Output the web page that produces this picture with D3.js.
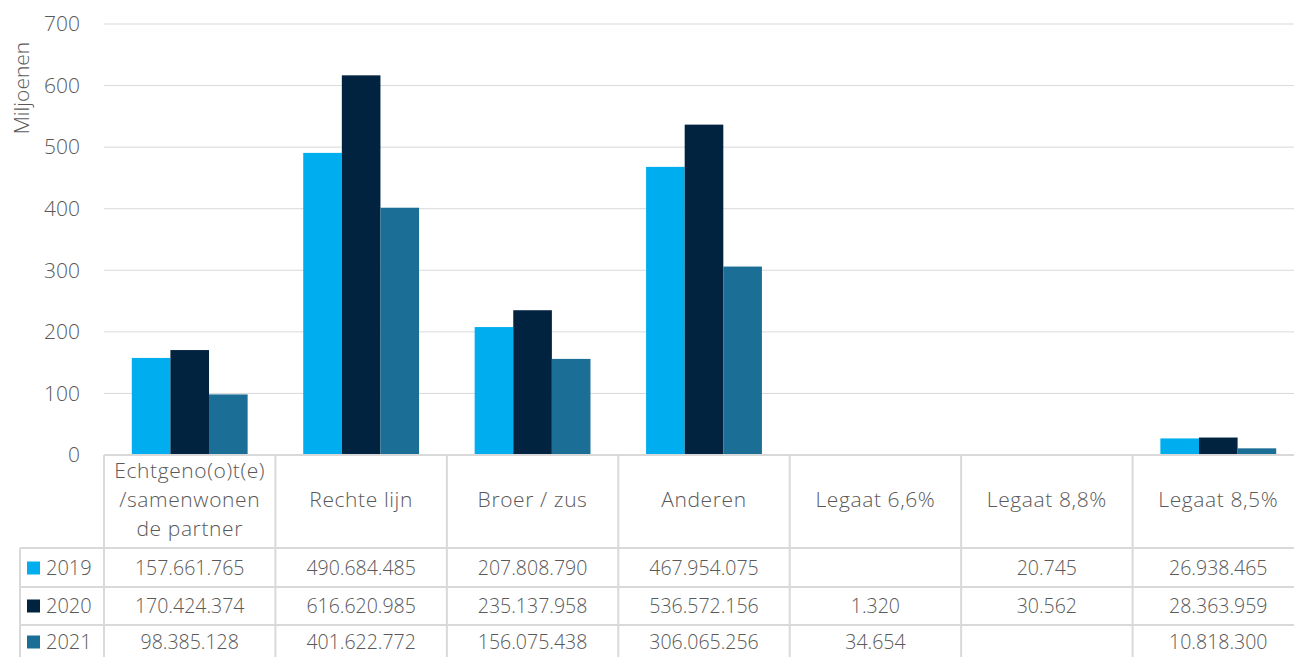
<!DOCTYPE html>
<html><head><meta charset="utf-8">
<script src="https://cdn.jsdelivr.net/npm/d3@7"></script>
<style>
body{margin:0;background:#fff;}
svg text{font-family:"Open Sans",sans-serif;fill:#595959;font-weight:300;}
</style></head>
<body><svg id="c" width="1294" height="657"></svg>
<script>
const categories = [["Echtgeno(o)t(e)","/samenwonen","de partner"],["Rechte lijn"],["Broer / zus"],["Anderen"],["Legaat 6,6%"],["Legaat 8,8%"],["Legaat 8,5%"]];
const years = ["2019","2020","2021"];
const colors = ["#00AEEF","#012340","#1B6E96"];
const values2019 = [157661765, 490684485, 207808790, 467954075, null, 20745, 26938465];
const values2020 = [170424374, 616620985, 235137958, 536572156, 1320, 30562, 28363959];
const values2021 = [98385128, 401622772, 156075438, 306065256, 34654, null, 10818300];
const yTicks = [0,100,200,300,400,500,600,700];
const series = [values2019, values2020, values2021];

const fmt = v => v==null ? "" : d3.format(",")(v).replace(/,/g,".");

(function(){
const svg = d3.select("#c");
const mLeft = 104, mRight = 1304, mTop = 24, mBottom = 455;
const x = d3.scaleBand().domain(d3.range(categories.length)).range([mLeft,mRight]).paddingInner(0).paddingOuter(0);
const xi = d3.scaleBand().domain(d3.range(3)).range([0,x.bandwidth()]).paddingOuter(0.72);
const y = d3.scaleLinear().domain([0,700]).range([mBottom,mTop]);

svg.append("g").selectAll("line").data(yTicks.filter(d=>d>0)).join("line")
  .attr("x1",mLeft).attr("x2",1294).attr("y1",d=>y(d)).attr("y2",d=>y(d))
  .attr("stroke","#d9d9d9").attr("stroke-width",1);

const ya = svg.append("g").attr("transform",`translate(${mLeft},0)`)
  .call(d3.axisLeft(y).tickValues(yTicks).tickSize(0).tickPadding(24));
ya.select(".domain").remove();
ya.selectAll("text").style("font-family","'Open Sans',sans-serif").style("font-size","21px").attr("fill","#595959").style("font-weight","300");

svg.append("text").attr("transform","translate(29,88) rotate(-90)").attr("text-anchor","middle")
  .style("font-size","21px").text("Miljoenen");

series.forEach((s,si)=>{
  svg.append("g").selectAll("rect").data(s).join("rect")
    .attr("x",(d,i)=>x(i)+xi(si)).attr("width",xi.bandwidth())
    .attr("y",d=>y((d||0)/1e6)).attr("height",d=>mBottom-y((d||0)/1e6))
    .attr("fill",colors[si]);
});

const rowTop = [455,548,587,625,659];
const g = svg.append("g").attr("stroke","#d9d9d9").attr("stroke-width",2);
g.append("line").attr("x1",mLeft).attr("x2",1294).attr("y1",455).attr("y2",455);
[548,587,625].forEach(v=>g.append("line").attr("x1",20).attr("x2",1294).attr("y1",v).attr("y2",v));
d3.range(categories.length).forEach(i=>{
  g.append("line").attr("x1",x(i)).attr("x2",x(i)).attr("y1",455).attr("y2",657);
});
g.append("line").attr("x1",20).attr("x2",20).attr("y1",548).attr("y2",657);

categories.forEach((c,i)=>{
  const n=c.length, cy=500, lh=29;
  c.forEach((t,k)=>{
    svg.append("text").attr("x",x(i)+x.bandwidth()/2).attr("y",cy+(k-(n-1)/2)*lh)
      .attr("dy","0.35em").attr("text-anchor","middle").style("font-size","21px").style("letter-spacing","0.6px").text(t);
  });
});
const rowMid = [568,606,642];
years.forEach((yr,r)=>{
  const cy=rowMid[r];
  svg.append("rect").attr("x",27).attr("y",cy-6.5).attr("width",13).attr("height",13).attr("fill",colors[r]);
  svg.append("text").attr("x",46).attr("y",cy).attr("dy","0.35em").style("font-size","20px").text(yr);
  series[r].forEach((v,i)=>{
    svg.append("text").attr("x",x(i)+x.bandwidth()/2).attr("y",cy).attr("dy","0.35em")
      .attr("text-anchor","middle").style("font-size","19.5px").text(fmt(v));
  });
});
})();
</script></body></html>
